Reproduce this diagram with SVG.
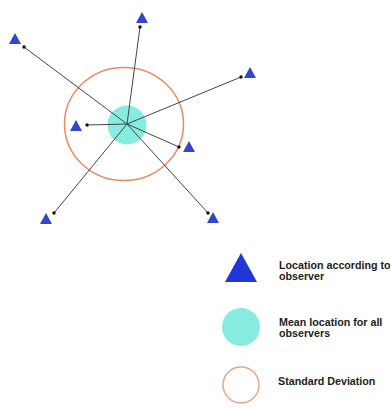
<svg xmlns="http://www.w3.org/2000/svg" width="391" height="408" viewBox="0 0 391 408">
<style>
.obs{fill:#3346cc}
.ln{stroke:#444;stroke-width:1;fill:none;marker-end:url(#dot)}
.lbl{font-family:"Liberation Sans",Arial,sans-serif;font-weight:bold;font-size:10.7px;fill:#222}
</style>
<defs>
<marker id="dot" viewBox="0 0 4 4" refX="2" refY="2" markerWidth="4" markerHeight="4" markerUnits="userSpaceOnUse"><circle cx="2" cy="2" r="1.7" fill="#111"/></marker>
<polygon id="tri" points="0,-6 6,5 -6,5"/>
</defs>
<rect width="391" height="408" fill="#fff"/>
<g id="sd-circle"><ellipse cx="124" cy="124" rx="59.5" ry="56.5" fill="none" stroke="#e88a62" stroke-width="1.5"/></g>
<g id="mean"><circle cx="127" cy="125" r="19.5" fill="#86ece2"/></g>
<g id="connectors">
<line class="ln" x1="127" y1="124" x2="24" y2="47"/>
<line class="ln" x1="127" y1="124" x2="140" y2="27"/>
<line class="ln" x1="127" y1="124" x2="241" y2="77"/>
<line class="ln" x1="127" y1="124" x2="87" y2="125"/>
<line class="ln" x1="127" y1="124" x2="179" y2="147"/>
<line class="ln" x1="127" y1="124" x2="54" y2="213"/>
<line class="ln" x1="127" y1="124" x2="208" y2="213"/>
</g>
<g id="obs1"><use href="#tri" class="obs" x="15" y="39"/></g>
<g id="obs2"><use href="#tri" class="obs" x="142" y="18"/></g>
<g id="obs3"><use href="#tri" class="obs" x="250" y="73"/></g>
<g id="obs4"><use href="#tri" class="obs" x="76" y="126"/></g>
<g id="obs5"><use href="#tri" class="obs" x="189" y="147"/></g>
<g id="obs6"><use href="#tri" class="obs" x="46" y="219"/></g>
<g id="obs7"><use href="#tri" class="obs" x="213" y="218"/></g>
<g id="legend-location">
<polygon points="241,253 257,282 225,282" fill="#2036d8"/>
<text class="lbl" x="279" y="269">Location according to</text>
<text class="lbl" x="279" y="280">observer</text>
</g>
<g id="legend-mean">
<circle cx="241" cy="327" r="19" fill="#86ece2"/>
<text class="lbl" x="279" y="326">Mean location for all</text>
<text class="lbl" x="279" y="337">observers</text>
</g>
<g id="legend-sd">
<circle cx="241" cy="385" r="18" fill="none" stroke="#e6a888" stroke-width="1.5"/>
<text class="lbl" x="278" y="385">Standard Deviation</text>
</g>
</svg>
